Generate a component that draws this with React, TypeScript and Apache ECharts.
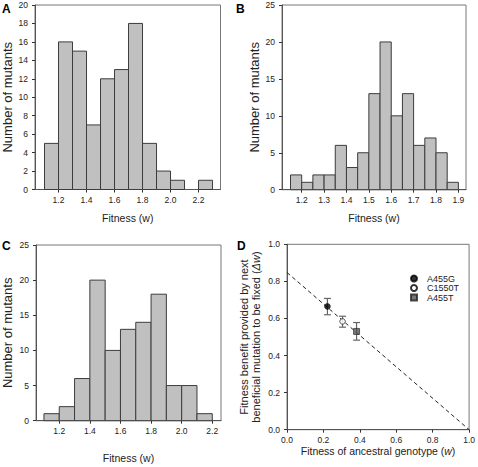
import React, { useEffect, useRef } from "react";
import * as echarts from "echarts";

// ---------- data ----------
const binWidthA = 0.1;
const binStartsA = [1.1, 1.2, 1.3, 1.4, 1.5, 1.6, 1.7, 1.8, 1.9, 2.0, 2.1, 2.2];
const countsA = [5, 16, 15, 7, 12, 13, 18, 5, 2, 1, 0, 1];

const binWidthB = 0.05;
const binStartsB = [1.15, 1.2, 1.25, 1.3, 1.35, 1.4, 1.45, 1.5, 1.55, 1.6, 1.65, 1.7, 1.75, 1.8, 1.85];
const countsB = [2, 1, 2, 2, 6, 3, 5, 13, 20, 10, 13, 6, 7, 5, 1];

const binWidthC = 0.1;
const binStartsC = [1.1, 1.2, 1.3, 1.4, 1.5, 1.6, 1.7, 1.8, 1.9, 2.0, 2.1];
const countsC = [1, 2, 6, 20, 10, 13, 14, 18, 5, 5, 1];

const xTicksA = [1.2, 1.4, 1.6, 1.8, 2.0, 2.2];
const xTicksB = [1.2, 1.3, 1.4, 1.5, 1.6, 1.7, 1.8, 1.9];
const xTicksC = [1.2, 1.4, 1.6, 1.8, 2.0, 2.2];

const genotypes = ["A455G", "C1550T", "A455T"];
const ancestralFitness = [0.222, 0.305, 0.382];
const fitnessBenefit = [0.665, 0.584, 0.53];
const errLow = [0.62, 0.553, 0.483];
const errHigh = [0.708, 0.612, 0.578];
const regressionLine = [
  [0, 0.848],
  [1, 0],
];

// ---------- styles ----------
const FONT = "'Liberation Sans', Arial, sans-serif";
const AXIS_COLOR = "#555";
const TEXT_COLOR = "#222";

function histData(starts: number[], counts: number[], w: number) {
  return starts.map((s, i) => [s, s + w, counts[i]]);
}

function histSeries(idx: number, data: number[][]) {
  return {
    type: "custom",
    xAxisIndex: idx,
    yAxisIndex: idx,
    encode: { x: [0, 1], y: 2 },
    data,
    renderItem: (params: any, api: any) => {
      const x0 = api.value(0);
      const x1 = api.value(1);
      const y = api.value(2);
      if (!y) return null;
      const p0 = api.coord([x0, y]);
      const p1 = api.coord([x1, 0]);
      return {
        type: "rect",
        shape: { x: p0[0], y: p0[1], width: p1[0] - p0[0], height: p1[1] - p0[1] },
        style: { fill: "#c0c0c0", stroke: "#3c3c3c", lineWidth: 1 },
      };
    },
  };
}

function xAxisCfg(idx: number, min: number, max: number, ticks: number[] | null, name: string, nameGap: number, extra: any = {}) {
  return {
    type: "value",
    gridIndex: idx,
    min,
    max,
    name,
    nameLocation: "middle",
    nameGap,
    nameTextStyle: { fontFamily: FONT, fontSize: 10.5, color: TEXT_COLOR, ...(extra.nameRich ? { rich: extra.nameRich } : {}) },
    axisLine: { show: true, onZero: false, lineStyle: { color: AXIS_COLOR, width: 1 } },
    axisTick: ticks
      ? { show: true, inside: false, length: 3, customValues: ticks, lineStyle: { color: "#333" } }
      : { show: true, inside: false, length: 3, lineStyle: { color: "#333" } },
    axisLabel: ticks
      ? { customValues: ticks, formatter: (v: number) => v.toFixed(1), fontFamily: FONT, fontSize: 8.5, color: TEXT_COLOR, margin: 6 }
      : { formatter: (v: number) => v.toFixed(1), fontFamily: FONT, fontSize: 8.5, color: TEXT_COLOR, margin: 6, showMaxLabel: true, showMinLabel: true },
    splitLine: { show: false },
    ...(extra.interval ? { interval: extra.interval } : {}),
  };
}

function yAxisCfg(idx: number, max: number, interval: number, name: string, nameGap: number, fmt: (v: number) => string, nameStyle: any = {}) {
  return {
    type: "value",
    gridIndex: idx,
    min: 0,
    max,
    interval,
    name,
    nameLocation: "middle",
    nameGap,
    nameTextStyle: { fontFamily: FONT, fontSize: 13, color: TEXT_COLOR, ...nameStyle },
    axisLine: { show: true, onZero: false, lineStyle: { color: AXIS_COLOR, width: 1 } },
    axisTick: { show: true, inside: false, length: 3, lineStyle: { color: "#333" } },
    axisLabel: { formatter: fmt, fontFamily: FONT, fontSize: 8.5, color: TEXT_COLOR, margin: 7 },
    splitLine: { show: false },
  };
}

const gridBase = { show: true, borderColor: "#777", borderWidth: 1, backgroundColor: "transparent", containLabel: false };

export default function App() {
  const ref = useRef<HTMLDivElement>(null);
  useEffect(() => {
    if (!ref.current) return;
    const chart = echarts.init(ref.current, null, { renderer: "svg" });
    const intFmt = (v: number) => String(Math.round(v));
    const oneDec = (v: number) => v.toFixed(1);

    const errData = genotypes.map((g, i) => [ancestralFitness[i], errLow[i], errHigh[i]]);

    const option: any = {
      animation: false,
      backgroundColor: "#fff",
      textStyle: { fontFamily: FONT },
      grid: [
        { ...gridBase, left: 35, top: 5, width: 185.5, height: 184.5 },
        { ...gridBase, left: 282, top: 5, width: 184, height: 184.7 },
        { ...gridBase, left: 36, top: 245, width: 185, height: 175.7 },
        { ...gridBase, left: 287, top: 244.3, width: 184.3, height: 185.4 },
      ],
      xAxis: [
        xAxisCfg(0, 1.032, 2.357, xTicksA, "Fitness (w)", 23),
        xAxisCfg(1, 1.112, 1.934, xTicksB, "Fitness (w)", 23),
        xAxisCfg(2, 1.048, 2.257, xTicksC, "Fitness (w)", 32),
        xAxisCfg(3, 0, 1, null, "{n|Fitness of ancestral genotype (}{i|w}{n|)}", 13, {
          interval: 0.2,
          nameRich: {
            n: { fontFamily: FONT, fontSize: 10.5, color: TEXT_COLOR },
            i: { fontFamily: FONT, fontSize: 10.5, color: TEXT_COLOR, fontStyle: "italic" },
          },
        }),
      ],
      yAxis: [
        yAxisCfg(0, 20, 2, "Number of mutants", 21, intFmt),
        yAxisCfg(1, 25, 5, "Number of mutants", 21, intFmt),
        yAxisCfg(2, 25, 5, "Number of mutants", 22, intFmt),
        yAxisCfg(
          3,
          1,
          0.2,
          "{n|Fitness benefit provided by next}\n{n|beneficial mutation to be fixed (}{i|Δw}{n|)}",
          25,
          oneDec,
          {
            fontSize: 11,
            lineHeight: 12,
            rich: {
              n: { fontFamily: FONT, fontSize: 11, color: TEXT_COLOR, lineHeight: 12 },
              i: { fontFamily: FONT, fontSize: 11, color: TEXT_COLOR, fontStyle: "italic", lineHeight: 12 },
            },
          }
        ),
      ],
      legend: {
        data: genotypes,
        orient: "vertical",
        left: 410,
        top: 274,
        itemWidth: 6,
        itemHeight: 6,
        itemGap: 0.5,
        padding: 0,
        textStyle: { fontFamily: FONT, fontSize: 9, color: TEXT_COLOR, padding: [0, 0, 0, 5] },
      },
      graphic: [
        { type: "text", left: 2, top: 3, style: { text: "A", font: `bold 12px ${FONT}`, fill: "#000" } },
        { type: "text", left: 236, top: 3, style: { text: "B", font: `bold 12px ${FONT}`, fill: "#000" } },
        { type: "text", left: 2, top: 240, style: { text: "C", font: `bold 12px ${FONT}`, fill: "#000" } },
        { type: "text", left: 237, top: 240, style: { text: "D", font: `bold 12px ${FONT}`, fill: "#000" } },
      ],
      series: [
        histSeries(0, histData(binStartsA, countsA, binWidthA)),
        histSeries(1, histData(binStartsB, countsB, binWidthB)),
        histSeries(2, histData(binStartsC, countsC, binWidthC)),
        {
          type: "line",
          xAxisIndex: 3,
          yAxisIndex: 3,
          data: regressionLine,
          symbol: "none",
          silent: true,
          lineStyle: { color: "#222", width: 1, type: [4, 3] },
          z: 1,
        },
        {
          type: "custom",
          xAxisIndex: 3,
          yAxisIndex: 3,
          encode: { x: 0, y: [1, 2] },
          data: errData,
          z: 2,
          renderItem: (params: any, api: any) => {
            const x = api.value(0);
            const lo = api.coord([x, api.value(1)]);
            const hi = api.coord([x, api.value(2)]);
            const cap = 3.5;
            const style = { stroke: "#666", lineWidth: 1.2 };
            return {
              type: "group",
              children: [
                { type: "line", shape: { x1: lo[0], y1: lo[1], x2: hi[0], y2: hi[1] }, style },
                { type: "line", shape: { x1: lo[0] - cap, y1: lo[1], x2: lo[0] + cap, y2: lo[1] }, style },
                { type: "line", shape: { x1: hi[0] - cap, y1: hi[1], x2: hi[0] + cap, y2: hi[1] }, style },
              ],
            };
          },
        },
        {
          name: genotypes[0],
          type: "scatter",
          xAxisIndex: 3,
          yAxisIndex: 3,
          symbol: "circle",
          symbolSize: 6,
          data: [[ancestralFitness[0], fitnessBenefit[0]]],
          itemStyle: { color: "#000", borderColor: "#000", borderWidth: 0.5 },
          z: 3,
        },
        {
          name: genotypes[1],
          type: "scatter",
          xAxisIndex: 3,
          yAxisIndex: 3,
          symbol: "circle",
          symbolSize: 5.5,
          data: [[ancestralFitness[1], fitnessBenefit[1]]],
          itemStyle: { color: "#fff", borderColor: "#000", borderWidth: 0.8 },
          z: 3,
        },
        {
          name: genotypes[2],
          type: "scatter",
          xAxisIndex: 3,
          yAxisIndex: 3,
          symbol: "rect",
          symbolSize: 6,
          data: [[ancestralFitness[2], fitnessBenefit[2]]],
          itemStyle: { color: "#555", borderColor: "#222", borderWidth: 0.8 },
          z: 3,
        },
      ],
    };
    chart.setOption(option);
    return () => chart.dispose();
  }, []);
  return <div ref={ref} style={{ position: "absolute", left: 0, top: 0, width: 478, height: 467 }} />;
}
